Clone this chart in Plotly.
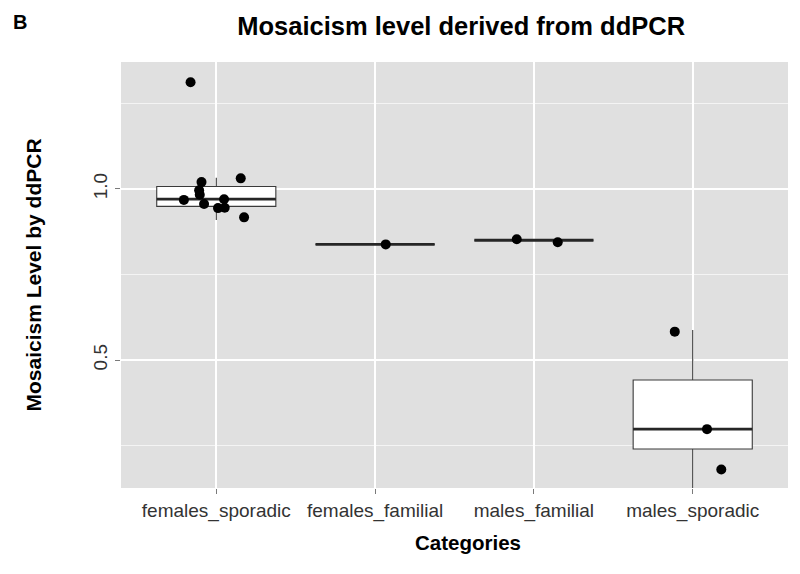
"""Mosaicism level derived from ddPCR: ggplot-style box plot with jittered points."""

import plotly.graph_objects as go

CATEGORIES = ["females_sporadic", "females_familial", "males_familial", "males_sporadic"]

# box statistics
LOWER = [0.909, 0.838, 0.850, 0.125]
Q1 = [0.949, 0.838, 0.850, 0.240]
MEDIAN = [0.970, 0.838, 0.850, 0.298]
Q3 = [1.007, 0.838, 0.850, 0.4415]
UPPER = [1.033, 0.838, 0.850, 0.588]

# jittered points as drawn: category index, horizontal jitter, value
POINT_CAT = [0] * 11 + [1] + [2, 2] + [3, 3, 3]
POINT_JITTER = [-0.162, 0.154, -0.093, -0.108, -0.104, -0.204, -0.077, 0.049, 0.011, 0.053, 0.175,
                0.067,
                -0.108, 0.150,
                -0.113, 0.090, 0.180]
POINT_VALUE = [1.312, 1.031, 1.020, 0.996, 0.983, 0.968, 0.956, 0.970, 0.944, 0.945, 0.917,
               0.838,
               0.853, 0.844,
               0.583, 0.298, 0.180]

BOX_WIDTH = 0.75
FONT = "Liberation Sans, Arial, sans-serif"
PANEL = "#E0E0E0"
TEXT = "#333333"

positions = list(range(1, len(CATEGORIES) + 1))

fig = go.Figure()
for i, pos in enumerate(positions):
    fig.add_trace(
        go.Box(
            x=[pos],
            q1=[Q1[i]],
            median=[MEDIAN[i]],
            q3=[Q3[i]],
            lowerfence=[LOWER[i]],
            upperfence=[UPPER[i]],
            width=BOX_WIDTH,
            whiskerwidth=0,
            fillcolor="white",
            line=dict(color="#3a3a3a", width=1.1),
            boxpoints=False,
            hoverinfo="skip",
            showlegend=False,
        )
    )

# thick median bars like ggplot
med_x, med_y = [], []
for pos, m in zip(positions, MEDIAN):
    med_x += [pos - BOX_WIDTH / 2, pos + BOX_WIDTH / 2, None]
    med_y += [m, m, None]
fig.add_trace(
    go.Scatter(
        x=med_x, y=med_y, mode="lines",
        line=dict(color="#262626", width=2.8),
        hoverinfo="skip", showlegend=False,
    )
)

fig.add_trace(
    go.Scatter(
        x=[positions[c] + j for c, j in zip(POINT_CAT, POINT_JITTER)],
        y=POINT_VALUE,
        mode="markers",
        marker=dict(color="black", size=10),
        showlegend=False,
    )
)

# the page body adds an 8px offset, so margins are shifted to compensate
fig.update_layout(
    width=800,
    height=574,
    margin=dict(l=113, r=20, t=54, b=94),
    paper_bgcolor="white",
    plot_bgcolor=PANEL,
    font=dict(family=FONT, color=TEXT),
    title=dict(
        text="<b>Mosaicism level derived from ddPCR</b>",
        x=0.51, xref="paper", xanchor="center",
        y=1 - 18 / 574, yanchor="middle",
        font=dict(size=25.5, color="black"),
    ),
    annotations=[
        dict(
            text="<b>B</b>", x=-0.1514, y=1.125, xref="paper", yref="paper",
            xanchor="center", yanchor="top", showarrow=False,
            font=dict(size=20, color="black"),
        ),
        dict(
            text="<b>Categories</b>", x=0.52, y=-0.129, xref="paper", yref="paper",
            xanchor="center", yanchor="middle", showarrow=False,
            font=dict(size=20.5, color="black"),
        ),
    ],
)

fig.update_xaxes(
    range=[0.4, 4.6],
    tickvals=positions,
    ticktext=CATEGORIES,
    tickfont=dict(size=19, color=TEXT),
    showgrid=True, gridcolor="white", gridwidth=1.6,
    zeroline=False, showline=False,
    ticks="outside", ticklen=5, tickcolor="#7a7a7a",
)
fig.update_yaxes(
    range=[0.126, 1.371],
    tickvals=[0.5, 1.0],
    ticktext=["0.5", "1.0"],
    tickangle=-90,
    tickfont=dict(size=19, color=TEXT),
    showgrid=True, gridcolor="white", gridwidth=1.6,
    minor=dict(tickvals=[0.25, 0.75, 1.25], showgrid=True, gridcolor="#F4F4F4", gridwidth=0.8),
    zeroline=False, showline=False,
    ticks="outside", ticklen=5, tickcolor="#7a7a7a",
    title=dict(text="<b>Mosaicism Level by ddPCR</b>", font=dict(size=21, color="black"), standoff=43),
)

fig.write_html("out.html")
